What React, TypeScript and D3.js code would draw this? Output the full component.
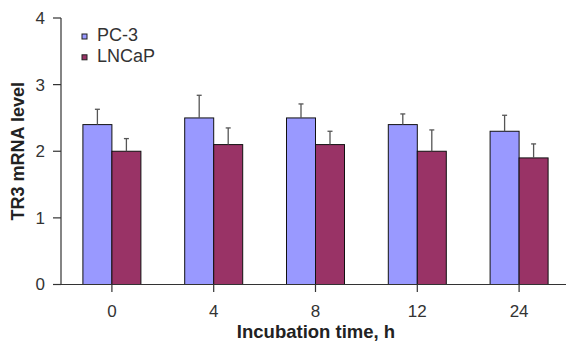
import React from 'react';
import * as d3 from 'd3';

const categories = ['0', '4', '8', '12', '24'];
const pc3Values = [2.4, 2.5, 2.5, 2.4, 2.3];
const pc3Errors = [0.23, 0.34, 0.21, 0.16, 0.24];
const lncapValues = [2.0, 2.1, 2.1, 2.0, 1.9];
const lncapErrors = [0.19, 0.25, 0.2, 0.32, 0.21];
const yTicks = [0, 1, 2, 3, 4];

const seriesNames = ['PC-3', 'LNCaP'];
const colors = ['#9999FF', '#993366'];

const W = 566;
const H = 342;
const FONT = '"Liberation Sans", Arial, Helvetica, sans-serif';

export default function App() {
  const x = d3.scaleBand<string>().domain(categories).range([61, 570]).paddingInner(0).paddingOuter(0);
  const barW = 29;
  const y = d3.scaleLinear().domain([0, 4]).range([284.5, 18]);

  const series = [
    { name: seriesNames[0], values: pc3Values, errors: pc3Errors, color: colors[0], off: -barW },
    { name: seriesNames[1], values: lncapValues, errors: lncapErrors, color: colors[1], off: 0 },
  ];

  return (
    <div style={{ position: 'absolute', left: 0, top: 0 }}>
      <svg width={W} height={H} style={{ display: 'block', fontFamily: FONT }}>
        <rect width={W} height={H} fill="#fff" />
        {/* bars */}
        {series.map((s) =>
          categories.map((c, i) => {
            const cx = x(c)! + x.bandwidth() / 2;
            return (
              <rect
                key={s.name + c}
                x={cx + s.off}
                y={y(s.values[i])}
                width={barW}
                height={y(0) - y(s.values[i])}
                fill={s.color}
                stroke="#111"
                strokeWidth={1}
              />
            );
          })
        )}
        {/* error bars */}
        {series.map((s) =>
          categories.map((c, i) => {
            const cx = x(c)! + x.bandwidth() / 2 + s.off + barW / 2;
            const top = y(s.values[i] + s.errors[i]);
            return (
              <g key={'e' + s.name + c} stroke="#555" strokeWidth={1.3}>
                <line x1={cx} x2={cx} y1={y(s.values[i])} y2={top} />
                <line x1={cx - 2.5} x2={cx + 2.5} y1={top} y2={top} />
              </g>
            );
          })
        )}
        {/* y axis */}
        <line x1={61} x2={61} y1={y(4)} y2={y(0)} stroke="#333" strokeWidth={1.2} />
        {yTicks.map((t) => (
          <g key={'yt' + t}>
            <line x1={53} x2={61} y1={y(t)} y2={y(t)} stroke="#333" strokeWidth={1.2} />
            <text x={45} y={y(t)} dy="0.35em" textAnchor="end" fontSize={17} fill="#333">
              {t}
            </text>
          </g>
        ))}
        {/* x axis */}
        <line x1={61} x2={W} y1={y(0)} y2={y(0)} stroke="#333" strokeWidth={1.2} />
        {categories.map((c) => {
          const cx = x(c)! + x.bandwidth() / 2;
          return (
            <g key={'xt' + c}>
              <line x1={cx} x2={cx} y1={y(0)} y2={y(0) + 7.5} stroke="#333" strokeWidth={1.2} />
              <text x={cx} y={316.5} textAnchor="middle" fontSize={17} fill="#333">
                {c}
              </text>
            </g>
          );
        })}
        <text x={316} y={337.5} textAnchor="middle" fontSize={18.5} fontWeight="bold" fill="#222">
          Incubation time, h
        </text>
        <text
          transform={`translate(23.5,${(y(0) + y(4)) / 2}) rotate(-90)`}
          textAnchor="middle"
          fontSize={18}
          fontWeight="bold"
          fill="#222"
        >
          TR3 mRNA level
        </text>
        {/* legend */}
        {series.map((s, i) => (
          <g key={'lg' + s.name} transform={`translate(82,${41 + i * 20.8})`}>
            <rect x={0} y={-7} width={5} height={5} fill={s.color} stroke="#222" strokeWidth={1} />
            <text x={15} y={0} fontSize={18} fill="#333">
              {s.name}
            </text>
          </g>
        ))}
      </svg>
    </div>
  );
}
